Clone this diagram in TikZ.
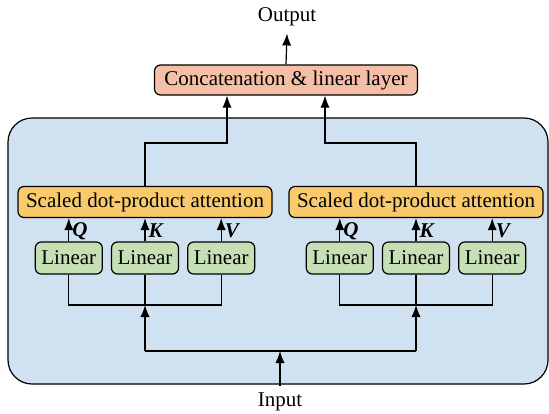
\documentclass[tikz,border=0pt]{standalone}
\usepackage{fontspec}
\setmainfont{Liberation Serif}
\usetikzlibrary{arrows.meta,positioning}
\definecolor{bgblue}{RGB}{208,226,241}
\definecolor{catred}{RGB}{245,190,166}
\definecolor{attorange}{RGB}{248,202,108}
\definecolor{lingreen}{RGB}{198,224,182}
\tikzset{
  box/.style={draw, rounded corners=3pt, inner sep=0pt, line width=0.6pt},
  linbox/.style={box, fill=lingreen, minimum width=33.5pt, minimum height=16pt},
  attbox/.style={box, fill=attorange, minimum width=127pt, minimum height=15.5pt},
  catbox/.style={box, fill=catred, minimum width=131.5pt, minimum height=15pt},
  arr/.style={-{Latex[length=6pt,width=4.6pt]}, line width=0.6pt},
  qkv/.style={right, inner sep=1.5pt, font=\fontsize{10.5}{12}\selectfont\bfseries\itshape},
}
\begin{document}
\begin{tikzpicture}[x=0.5pt,y=-0.5pt,font=\fontsize{10.5}{12}\selectfont,line width=0.6pt]
  \useasboundingbox (0,0) rectangle (549,413);
  % the multi-head block
  \draw[fill=bgblue, rounded corners=12pt] (8,118) rectangle (548,384);

  \node[catbox] (concat) at (286,80) {Concatenation \& linear layer};
  \node (output) at (287,17) {Output};
  \node (input) at (280,402) {Input};
  \coordinate (split) at (280,351);

  % two heads
  \foreach \h/\x/\c in {L/145/227, R/416/325}{
    \node[attbox] (att\h) at (\x,202) {Scaled dot-product attention};
    \node[linbox] (linK\h) at (\x,258) {Linear};
    \node[linbox, left=4pt of linK\h] (linQ\h) {Linear};
    \node[linbox, right=4pt of linK\h] (linV\h) {Linear};
    \draw[arr] (linQ\h.north) -- (linQ\h.north |- att\h.south) node[qkv, pos=0.45] {Q};
    \draw[arr] (linK\h.north) -- (linK\h.north |- att\h.south) node[qkv, pos=0.45] {K};
    \draw[arr] (linV\h.north) -- (linV\h.north |- att\h.south) node[qkv, pos=0.45] {V};
    \coordinate (join\h) at (linK\h.south |- 0,305);
    \draw (linQ\h.south) |- (join\h) -| (linV\h.south);
    \draw (linK\h.south) -- (join\h);
    \draw[arr] (split -| join\h) -- (join\h);
    \draw[arr] (att\h.north) |- (\c,143) -- (\c,0 |- concat.south);
  }
  \draw (split -| joinL) -- (split -| joinR);
  \draw[arr] (input.north) -- (split);
  \draw[arr] (concat.north) -- (output.south);
\end{tikzpicture}
\end{document}
